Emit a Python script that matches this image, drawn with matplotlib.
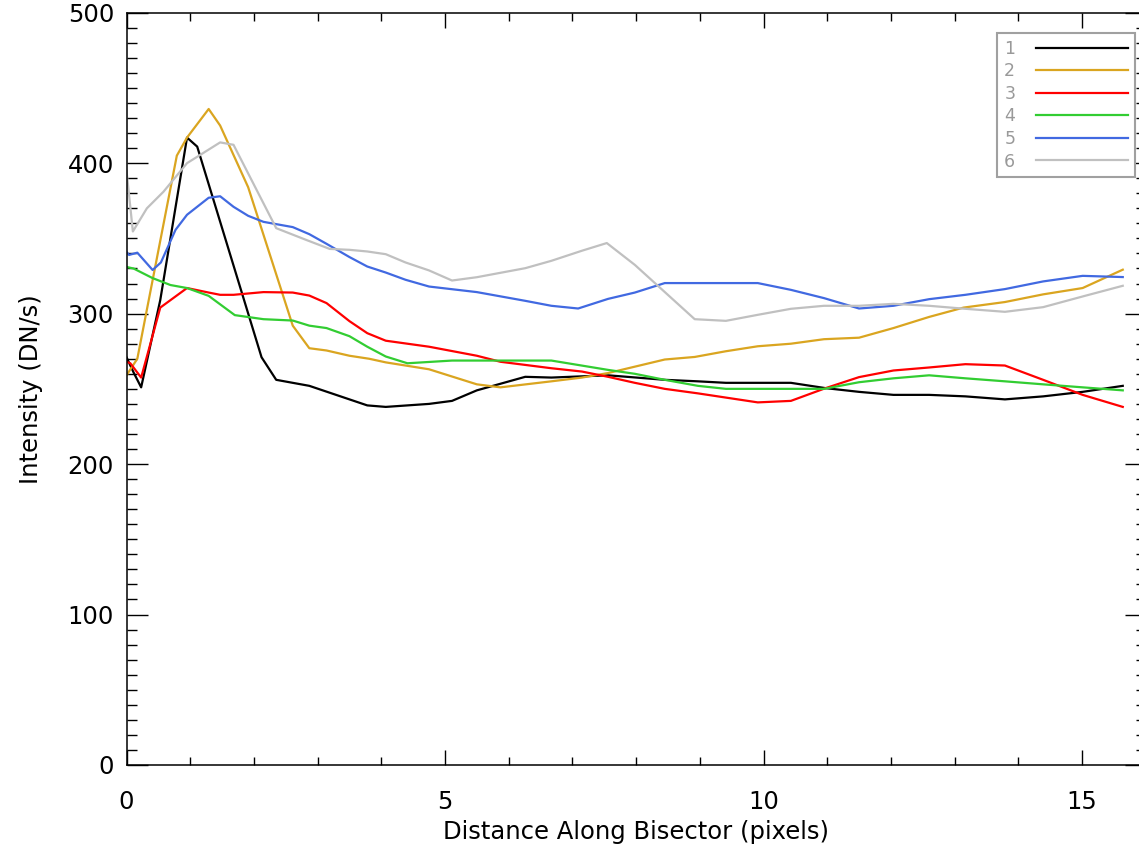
import matplotlib
matplotlib.use("Agg")
import matplotlib.pyplot as plt
from matplotlib.ticker import MultipleLocator

# ---- data ----
x1 = [0, 0.11, 0.23, 0.53, 0.95, 1.11, 2.12, 2.35, 2.87, 3.5, 3.78, 4.07, 4.75, 5.11, 5.5, 6.26, 6.67,
      7.56, 8.45, 8.97, 9.41, 10.43, 10.97, 11.5, 12.04, 12.6, 13.17, 13.79, 14.39, 15.01, 15.64]
y1 = [271, 261, 251, 309, 417, 411, 271, 256, 252, 243, 239, 238, 240, 242, 249, 258, 257.5,
      259, 256, 255, 254, 254, 250.5, 248, 246, 246, 245, 243, 245, 248, 252]

x2 = [0, 0.17, 0.79, 0.95, 1.29, 1.47, 1.91, 2.61, 2.87, 3.14, 3.5, 3.81, 4.07, 4.75, 5.5, 5.87, 6.67,
      7.15, 7.56, 8.45, 8.92, 9.41, 9.91, 10.43, 10.95, 11.5, 12.04, 12.6, 13.14, 13.79, 14.39, 15.01, 15.64]
y2 = [259, 270, 405, 417, 436, 425, 384, 292, 277, 275.5, 272, 270, 267.6, 263, 253, 251, 255,
      257.5, 260.5, 269.5, 271.2, 275, 278.3, 280, 283, 284, 290.4, 297.8, 304, 307.7, 312.8, 317, 329.2]

x3 = [0, 0.06, 0.23, 0.53, 0.95, 1.29, 1.47, 1.68, 2.15, 2.61, 2.87, 3.14, 3.5, 3.78, 4.07, 4.75, 5.5,
      5.87, 6.67, 7.15, 7.56, 7.98, 8.45, 8.97, 9.91, 10.43, 10.97, 11.5, 12.04, 12.6, 13.17, 13.79,
      14.39, 15.01, 15.64]
y3 = [268, 267, 257.5, 304, 317, 314, 312.5, 312.5, 314.3, 314, 312, 307, 295, 287, 282, 278, 272,
      268, 263.7, 261.5, 258, 254, 250, 247, 241, 242, 250.4, 257.8, 262.2, 264.2, 266.4, 265.5,
      256, 246, 238]

x4 = [0, 0.11, 0.41, 0.69, 0.95, 1.29, 1.7, 2.15, 2.61, 2.87, 3.14, 3.5, 3.78, 4.07, 4.41, 5.11, 6.67,
      7.56, 7.98, 8.45, 8.97, 9.41, 10.95, 11.5, 12.04, 12.6, 13.17, 13.79, 14.39, 15.01, 15.64]
y4 = [331, 330, 323.6, 319, 317, 311.8, 299, 296.3, 295.4, 292, 290.4, 285, 278, 271.5, 267, 268.8, 268.8,
      262.6, 260, 256, 252, 250, 250, 254.4, 257, 259, 257, 255, 253, 251, 249]

x5 = [0, 0.04, 0.17, 0.41, 0.54, 0.77, 0.95, 1.29, 1.47, 1.68, 1.91, 2.15, 2.61, 2.87, 3.14, 3.5, 3.78,
      4.07, 4.38, 4.75, 5.5, 6.26, 6.67, 7.09, 7.56, 7.98, 8.45, 9.91, 10.43, 10.95, 11.5, 12.04, 12.6,
      13.17, 13.79, 14.39, 15.01, 15.64]
y5 = [341, 339, 340.5, 329, 334, 355.7, 365.7, 377, 378, 371, 365, 361, 357.5, 352.8, 346.4, 337.6, 331.3,
      327.3, 322.5, 318, 314.3, 308.5, 305.2, 303.4, 309.8, 314, 320.3, 320.3, 315.8, 310.3, 303.4, 305.2,
      309.6, 312.5, 316.3, 321.4, 325.1, 324.3]

x6 = [0, 0.1, 0.32, 0.58, 0.95, 1.47, 1.68, 2.35, 2.82, 3.19, 3.5, 3.78, 4.07, 4.38, 4.75, 5.11, 5.5,
      6.26, 6.67, 7.15, 7.54, 7.98, 8.92, 9.41, 9.91, 10.43, 10.95, 11.5, 12.04, 12.6, 13.17, 13.79,
      14.39, 15.01, 15.64]
y6 = [395, 354.6, 370, 381, 400, 413.8, 412.2, 356.8, 349, 343, 342.4, 341.3, 339.5, 334, 328.7, 322, 324.2,
      330.2, 335.1, 341.8, 346.9, 332.4, 296.3, 295.2, 299.2, 303.2, 305.2, 305.2, 306.5, 305.2, 303.2, 301.2,
      304.3, 311.4, 318.5]

labels = ["1", "2", "3", "4", "5", "6"]
colors = ["#000000", "#DAA520", "#FF0000", "#32CD32", "#4169E1", "#C0C0C0"]

plt.rcParams['font.family'] = ['DejaVu Sans']

fig = plt.figure(figsize=(11.39, 8.52), dpi=100)
ax = fig.add_axes([126.5 / 1139, 87 / 852, 1019.2 / 1139, 752.3 / 852])

xs = [x1, x2, x3, x4, x5, x6]
ys = [y1, y2, y3, y4, y5, y6]
handles = []
for xx, yy, c, lab in zip(xs, ys, colors, labels):
    h, = ax.plot(xx, yy, color=c, lw=1.6, label=lab)
    handles.append(h)

ax.set_xlim(0, 16)
ax.set_ylim(0, 500)
ax.xaxis.set_major_locator(MultipleLocator(5))
ax.xaxis.set_minor_locator(MultipleLocator(1))
ax.yaxis.set_major_locator(MultipleLocator(100))
ax.yaxis.set_minor_locator(MultipleLocator(10))

ax.tick_params(which='both', direction='in', top=True, right=True, width=1.0, color='black')
ax.tick_params(axis='x', which='major', length=11, pad=18, labelsize=17.5)
ax.tick_params(axis='x', which='minor', length=5.5)
ax.tick_params(axis='y', which='major', length=15, pad=9, labelsize=17.5)
ax.tick_params(axis='y', which='minor', length=7.5)
for s in ax.spines.values():
    s.set_linewidth(1.1)

ax.set_xlabel("Distance Along Bisector (pixels)", fontsize=17.5, labelpad=4)
ax.set_ylabel("Intensity (DN/s)", fontsize=17.5, labelpad=18)

fig.canvas.draw()
ylabs = ax.get_yticklabels()
ylabs[0].set_verticalalignment('bottom')
ylabs[-1].set_verticalalignment('top')

leg = fig.legend(handles=handles, loc='upper right', bbox_to_anchor=(1135 / 1139, 1 - 33 / 852),
                 borderaxespad=0, markerfirst=False, fontsize=12.5, labelcolor='#999999',
                 handlelength=5.3, handletextpad=1.2, labelspacing=0.26, borderpad=0.4,
                 fancybox=False, framealpha=1, edgecolor='#a0a0a0', facecolor='white')
leg.get_frame().set_linewidth(1.5)

fig.savefig("out.png", dpi=100)
